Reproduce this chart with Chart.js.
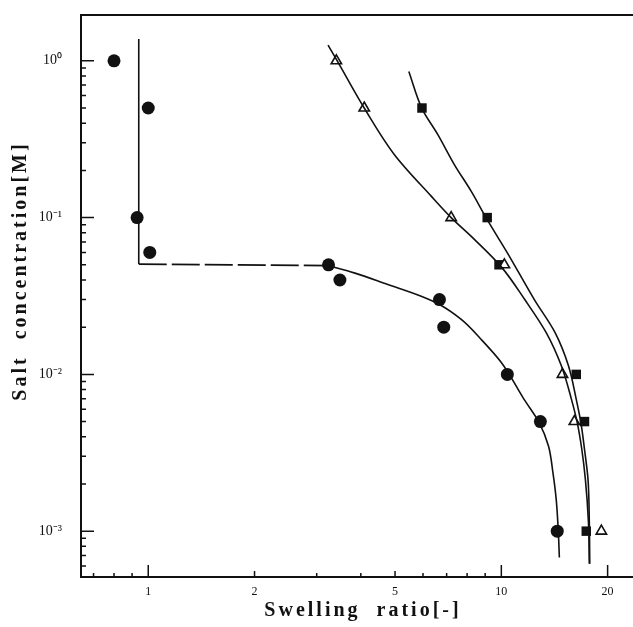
<!DOCTYPE html>
<html>
<head>
<meta charset="utf-8">
<script src="https://cdn.jsdelivr.net/npm/chart.js@4.4.1/dist/chart.umd.min.js"></script>
<style>
  html, body { margin: 0; padding: 0; background: #fff; }
  canvas { display: block; }
</style>
</head>
<body>
<canvas id="swellChart" width="633" height="627"></canvas>
<script>
// measured points
const circleX = [0.80, 1.00, 0.93, 1.01, 3.24, 3.49, 6.68, 6.87, 10.4, 12.9, 14.4];
const circleY = [1.0, 0.5, 0.1, 0.06, 0.05, 0.04, 0.03, 0.02, 0.01, 0.005, 0.001];
const triangleX = [3.41, 4.09, 7.21, 10.2, 14.9, 16.1, 19.2];
const triangleY = [1.0, 0.5, 0.1, 0.05, 0.01, 0.005, 0.001];
const squareX = [5.96, 9.12, 9.85, 16.3, 17.2, 17.4];
const squareY = [0.5, 0.1, 0.05, 0.01, 0.005, 0.001];

// hand drawn fit curves
const circleStepX = [0.94, 0.94];
const circleStepY = [1.38, 0.0505];
const circleDashX = [0.94, 3.23];
const circleDashY = [0.0505, 0.0494];
const circleFitX = [3.23, 3.83, 4.77, 5.93, 6.68, 7.70, 8.77, 10.0, 11.6, 12.8, 13.6, 14.0, 14.3, 14.5, 14.6];
const circleFitY = [0.0494, 0.0444, 0.0374, 0.0315, 0.0279, 0.0224, 0.0167, 0.0119, 0.00693, 0.00493, 0.00349, 0.00236, 0.0016, 0.001, 0.00068];
const triangleFitX = [3.23, 3.42, 4.09, 4.98, 6.33, 7.21, 8.40, 10.0, 11.65, 13.4, 14.8, 15.8, 16.4, 16.9, 17.3, 17.65, 17.75];
const triangleFitY = [1.26, 1.01, 0.50, 0.252, 0.137, 0.100, 0.0724, 0.0485, 0.0300, 0.01845, 0.0113, 0.00693, 0.00494, 0.00333, 0.00214, 0.00114, 0.00062];
const squareFitX = [5.47, 5.97, 6.61, 7.36, 8.22, 9.12, 10.4, 12.4, 14.2, 15.5, 16.3, 16.8, 17.2, 17.6, 17.75, 17.8];
const squareFitY = [0.855, 0.492, 0.338, 0.218, 0.147, 0.097, 0.0596, 0.0300, 0.01845, 0.0113, 0.00693, 0.00492, 0.00333, 0.00214, 0.00114, 0.00062];

// axes
const xTickLabels = [1, 2, 5, 10, 20];
const xMinorTicks = [0.7, 0.8, 0.9, 3, 4, 6, 7, 8, 9];
const yTickLabels = [1, 0.1, 0.01, 0.001];
const yTickText = ['10\u2070', '10\u207B\u00B9', '10\u207B\u00B2', '10\u207B\u00B3'];
const yMinorTicks = [];
[0.0001, 0.001, 0.01, 0.1, 1].forEach(d => {
    for (let k = 2; k <= 9; k++) yMinorTicks.push(k * d);
});

const ink = '#111';

function pts(xs, ys) {
    return xs.map((x, i) => ({ x: x, y: ys[i] }));
}

// curves run monotone in y, so smooth them along the y axis
function curve(xs, ys, extra) {
    return Object.assign({
        type: 'line',
        indexAxis: 'y',
        data: pts(xs, ys),
        borderColor: ink,
        borderWidth: 1.6,
        pointRadius: 0,
        cubicInterpolationMode: 'monotone',
        fill: false
    }, extra || {});
}

// inward ticks, top frame line, spaced axis titles
const framePlugin = {
    id: 'framePlugin',
    afterDraw(chart) {
        const ctx = chart.ctx;
        const a = chart.chartArea;
        const x = chart.scales.x;
        const y = chart.scales.y;
        ctx.save();
        ctx.strokeStyle = ink;
        ctx.lineWidth = 1.5;
        ctx.beginPath();
        xTickLabels.forEach(v => {
            const px = x.getPixelForValue(v);
            const len = (v === 2 || v === 5) ? 6 : 12;
            ctx.moveTo(px, a.bottom);
            ctx.lineTo(px, a.bottom - len);
        });
        xMinorTicks.forEach(v => {
            const px = x.getPixelForValue(v);
            ctx.moveTo(px, a.bottom);
            ctx.lineTo(px, a.bottom - 4);
        });
        yTickLabels.forEach(v => {
            const py = y.getPixelForValue(v);
            ctx.moveTo(a.left, py);
            ctx.lineTo(a.left + 13, py);
        });
        yMinorTicks.forEach(v => {
            if (v < y.min || v > y.max) return;
            const py = y.getPixelForValue(v);
            ctx.moveTo(a.left, py);
            ctx.lineTo(a.left + 5, py);
        });
        ctx.stroke();

        ctx.lineWidth = 2;
        ctx.beginPath();
        ctx.moveTo(a.left, a.top);
        ctx.lineTo(a.right, a.top);
        ctx.stroke();

        ctx.fillStyle = ink;
        ctx.font = 'bold 20px "Liberation Serif"';
        ctx.letterSpacing = '3px';
        ctx.textAlign = 'center';
        ctx.textBaseline = 'middle';
        ctx.fillText('Swelling  ratio[-]', 363, 611);
        ctx.translate(21, 271);
        ctx.rotate(-Math.PI / 2);
        ctx.fillText('Salt  concentration[M]', 0, 0);
        ctx.restore();
    }
};

function noEdgePadding(scale) {
    scale.paddingTop = 0;
    scale.paddingBottom = 0;
    scale.paddingLeft = 0;
    scale.paddingRight = 0;
}

const ctx = document.getElementById('swellChart').getContext('2d');
const swellChart = new Chart(ctx, {
    type: 'scatter',
    data: {
        datasets: [
            curve(circleStepX, circleStepY, { cubicInterpolationMode: 'default', tension: 0 }),
            curve(circleDashX, circleDashY, { indexAxis: 'x', cubicInterpolationMode: 'default', tension: 0, borderDash: [28, 5] }),
            curve(circleFitX, circleFitY),
            curve(triangleFitX, triangleFitY),
            curve(squareFitX, squareFitY),
            {
                label: 'circle',
                data: pts(circleX, circleY),
                pointStyle: 'circle',
                pointRadius: 6.5,
                backgroundColor: ink,
                borderColor: ink,
                borderWidth: 0
            },
            {
                label: 'triangle',
                data: pts(triangleX, triangleY),
                pointStyle: 'triangle',
                pointRadius: 6,
                backgroundColor: '#fff',
                borderColor: ink,
                borderWidth: 1.6
            },
            {
                label: 'square',
                data: pts(squareX, squareY),
                pointStyle: 'rect',
                pointRadius: 6.7,
                backgroundColor: ink,
                borderColor: ink,
                borderWidth: 0
            }
        ]
    },
    options: {
        responsive: false,
        animation: false,
        layout: { autoPadding: false, padding: { top: 15, right: 0, left: 0, bottom: 0 } },
        plugins: {
            legend: { display: false },
            tooltip: { enabled: false }
        },
        scales: {
            x: {
                type: 'logarithmic',
                position: 'bottom',
                bounds: 'data',
                min: 0.645,
                max: 23.6,
                afterFit(scale) { scale.height = 50; noEdgePadding(scale); },
                afterBuildTicks(scale) {
                    scale.ticks = xTickLabels.map(v => ({ value: v }));
                },
                grid: { display: false, drawTicks: false },
                border: { display: true, color: ink, width: 2 },
                ticks: {
                    padding: 8,
                    maxRotation: 0,
                    autoSkip: false,
                    color: ink,
                    font: { family: 'Liberation Serif', size: 12 },
                    callback: v => String(v)
                }
            },
            y: {
                type: 'logarithmic',
                position: 'left',
                bounds: 'data',
                min: 0.00051,
                max: 1.96,
                afterFit(scale) { scale.width = 81; noEdgePadding(scale); },
                afterBuildTicks(scale) {
                    scale.ticks = yTickLabels.map(v => ({ value: v }));
                },
                grid: { display: false, drawTicks: false },
                border: { display: true, color: ink, width: 2 },
                ticks: {
                    padding: 19,
                    autoSkip: false,
                    color: ink,
                    font: { family: 'Liberation Serif', size: 14 },
                    callback: v => yTickText[yTickLabels.indexOf(v)]
                }
            }
        }
    },
    plugins: [framePlugin]
});
</script>
</body>
</html>
